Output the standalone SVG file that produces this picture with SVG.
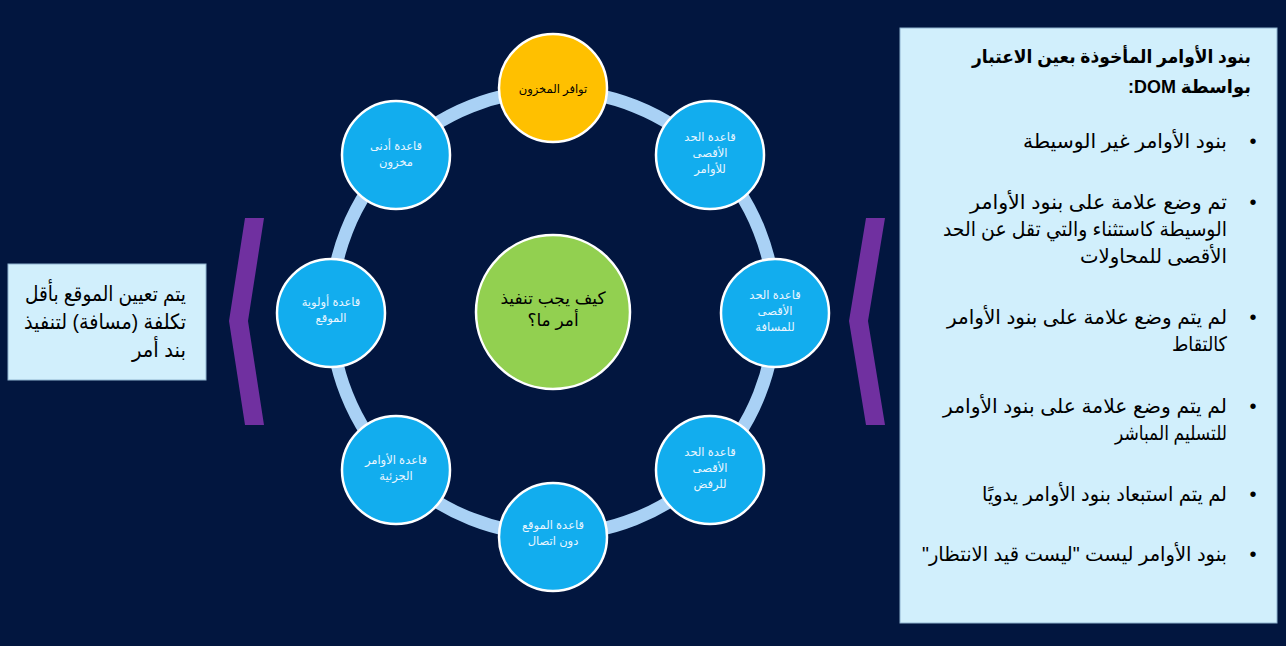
<svg xmlns="http://www.w3.org/2000/svg" width="1286" height="646" viewBox="0 0 1286 646">
<style>
.bg{fill:#02163f}
.ring{fill:none;stroke:#a9d1f5;stroke-width:13}
.node{fill:#12adee;stroke:#ffffff;stroke-width:2.5}
.ntxt{font-family:"Liberation Sans","DejaVu Sans",sans-serif;font-size:11.5px;fill:#eaf6ff;text-anchor:middle;direction:rtl}
.chev{fill:#7030a0}
.panel{fill:#d1effc;stroke:#8fb4d0;stroke-width:1}
.ptxt{font-family:"Liberation Sans","DejaVu Sans",sans-serif;font-size:20px;fill:#000000;direction:rtl;text-anchor:start}
.ttl{font-family:"Liberation Sans","DejaVu Sans",sans-serif;font-size:18.5px;font-weight:bold;fill:#000000;direction:rtl;text-anchor:start}
.bul{font-family:"Liberation Sans","DejaVu Sans",sans-serif;font-size:20px;fill:#000000;text-anchor:middle}
</style>
<rect class="bg" x="0" y="0" width="1286" height="646"/>
<g id="connectors">
<circle class="ring" cx="553" cy="312.5" r="222"/>
</g>
<g id="center">
<circle cx="553" cy="312" r="77" fill="#92d050" stroke="#ffffff" stroke-width="2.5"/>
<text class="ntxt" x="553" y="304" style="font-size:17px;fill:#000">كيف يجب تنفيذ</text>
<text class="ntxt" x="553" y="326" style="font-size:17px;fill:#000">أمر ما؟</text>
</g>
<g id="n-top">
<circle class="node" cx="553" cy="88" r="54" style="fill:#ffc000"/>
<text class="ntxt" x="553" y="93" style="fill:#000">توافر المخزون</text>
</g>
<g id="n-topright">
<circle class="node" cx="710" cy="155" r="54"/>
<text class="ntxt" x="710" y="141">قاعدة الحد</text>
<text class="ntxt" x="710" y="157">الأقصى</text>
<text class="ntxt" x="710" y="173">للأوامر</text>
</g>
<g id="n-right">
<circle class="node" cx="775" cy="313" r="54"/>
<text class="ntxt" x="775" y="299">قاعدة الحد</text>
<text class="ntxt" x="775" y="315">الأقصى</text>
<text class="ntxt" x="775" y="331">للمسافة</text>
</g>
<g id="n-bottomright">
<circle class="node" cx="710" cy="470" r="54"/>
<text class="ntxt" x="710" y="456">قاعدة الحد</text>
<text class="ntxt" x="710" y="472">الأقصى</text>
<text class="ntxt" x="710" y="488">للرفض</text>
</g>
<g id="n-bottom">
<circle class="node" cx="553" cy="537" r="54"/>
<text class="ntxt" x="553" y="529">قاعدة الموقع</text>
<text class="ntxt" x="553" y="545">دون اتصال</text>
</g>
<g id="n-bottomleft">
<circle class="node" cx="396" cy="470" r="54"/>
<text class="ntxt" x="396" y="464">قاعدة الأوامر</text>
<text class="ntxt" x="396" y="480">الجزئية</text>
</g>
<g id="n-left">
<circle class="node" cx="331" cy="313" r="54"/>
<text class="ntxt" x="331" y="306">قاعدة أولوية</text>
<text class="ntxt" x="331" y="322">الموقع</text>
</g>
<g id="n-topleft">
<circle class="node" cx="396" cy="155" r="54"/>
<text class="ntxt" x="396" y="150">قاعدة أدنى</text>
<text class="ntxt" x="396" y="166">مخزون</text>
</g>
<g id="chevrons">
<polygon class="chev" points="245,218 264,218 248,321 264,425 245,425 229,321"/>
<polygon class="chev" points="866,218 885,218 868,321 885,425 866,425 849,321"/>
</g>
<g id="left-box">
<rect class="panel" x="8" y="264" width="198" height="116"/>
<text class="ptxt" x="186" y="301" style="font-size:21px" textLength="161" lengthAdjust="spacingAndGlyphs">يتم تعيين الموقع بأقل</text>
<text class="ptxt" x="186" y="329" style="font-size:21px" textLength="162" lengthAdjust="spacingAndGlyphs">تكلفة (مسافة) لتنفيذ</text>
<text class="ptxt" x="186" y="357" style="font-size:21px" textLength="54" lengthAdjust="spacingAndGlyphs">بند أمر</text>
</g>
<g id="right-panel">
<rect class="panel" x="900" y="28" width="377" height="595"/>
<text class="ttl" x="1251" y="63" textLength="279" lengthAdjust="spacingAndGlyphs">بنود الأوامر المأخوذة بعين الاعتبار</text>
<text class="ttl" x="1251" y="93" textLength="123" lengthAdjust="spacingAndGlyphs">بواسطة DOM:</text>
<text class="bul" x="1253" y="148">•</text>
<text class="ptxt" x="1227" y="148" textLength="204" lengthAdjust="spacingAndGlyphs">بنود الأوامر غير الوسيطة</text>
<text class="bul" x="1253" y="209">•</text>
<text class="ptxt" x="1227" y="209" textLength="257" lengthAdjust="spacingAndGlyphs">تم وضع علامة على بنود الأوامر</text>
<text class="ptxt" x="1227" y="236" textLength="284" lengthAdjust="spacingAndGlyphs">الوسيطة كاستثناء والتي تقل عن الحد</text>
<text class="ptxt" x="1227" y="263" textLength="147" lengthAdjust="spacingAndGlyphs">الأقصى للمحاولات</text>
<text class="bul" x="1253" y="324">•</text>
<text class="ptxt" x="1227" y="324" textLength="280" lengthAdjust="spacingAndGlyphs">لم يتم وضع علامة على بنود الأوامر</text>
<text class="ptxt" x="1227" y="351" textLength="55" lengthAdjust="spacingAndGlyphs">كالتقاط</text>
<text class="bul" x="1253" y="413">•</text>
<text class="ptxt" x="1227" y="413" textLength="284" lengthAdjust="spacingAndGlyphs">لم يتم وضع علامة على بنود الأوامر</text>
<text class="ptxt" x="1227" y="440" textLength="112" lengthAdjust="spacingAndGlyphs">للتسليم المباشر</text>
<text class="bul" x="1253" y="501">•</text>
<text class="ptxt" x="1227" y="501" textLength="245" lengthAdjust="spacingAndGlyphs">لم يتم استبعاد بنود الأوامر يدويًا</text>
<text class="bul" x="1253" y="561">•</text>
<text class="ptxt" x="1227" y="561" textLength="305" lengthAdjust="spacingAndGlyphs">بنود الأوامر ليست "ليست قيد الانتظار"</text>
</g>
</svg>
